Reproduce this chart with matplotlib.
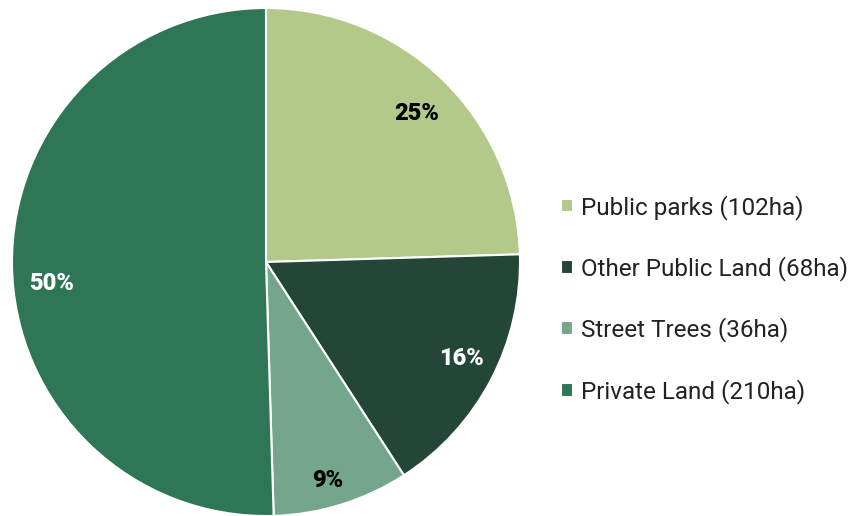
import matplotlib
matplotlib.use("Agg")
from matplotlib import pyplot as plt

# Canopy area by land type, in hectares
categories = ["Public parks", "Other Public Land", "Street Trees", "Private Land"]
hectares = [102, 68, 36, 210]
colors = ["#b3c98a", "#244636", "#73a68a", "#2e7656"]
label_colors = ["black", "white", "black", "white"]
# small nudges (pixels) for the percentage labels
label_nudge = [(-1, -8), (2, 5), (-3, -10), (4, -18)]

plt.rcParams['font.family'] = ['Roboto', 'DejaVu Sans']

fig = plt.figure(figsize=(8.57, 5.16), dpi=100)
ax = fig.add_axes([12 / 857, 0, 508 / 857, 508 / 516])

wedges, texts, pcts = ax.pie(
    hectares, colors=colors, startangle=90, counterclock=False,
    autopct="%.0f%%", pctdistance=0.86,
    wedgeprops=dict(edgecolor="white", linewidth=1.5),
    textprops=dict(fontsize=17, fontweight="heavy"),
)
ax.set_xlim(-1, 1)
ax.set_ylim(-1, 1)
ax.set_aspect("equal")

# 1 data unit = 254 px
for t, c, (dx, dy) in zip(pcts, label_colors, label_nudge):
    t.set_color(c)
    x, y = t.get_position()
    t.set_position((x + dx / 254, y + dy / 254))

labels = [f"{c} ({h}ha)" for c, h in zip(categories, hectares)]
fig.legend(wedges, labels, loc="center left", bbox_to_anchor=(539 / 857, 0.42),
           frameon=False, fontsize=17.5, handlelength=0.5, handleheight=0.5,
           handletextpad=0.33, labelspacing=1.5, labelcolor="#222222")

plt.savefig("out.png", dpi=100)
